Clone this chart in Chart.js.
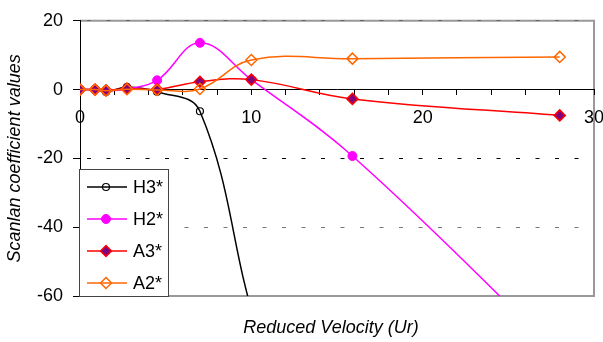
<!DOCTYPE html>
<html>
<head>
<meta charset="utf-8">
<script src="https://cdn.jsdelivr.net/npm/chart.js@4.4.1/dist/chart.umd.min.js"></script>
<style>
  html, body { margin: 0; padding: 0; background: #fff; }
</style>
</head>
<body>
<canvas id="chart" width="603" height="342"></canvas>
<script>
// values
const velocity = [0, 0.88, 1.52, 2.74, 4.5, 7, 10, 15.9, 28];
const h3Velocity = [0, 0.88, 1.52, 2.74, 4.5, 7, 10.5, 14];
const h3Values = [0, -0.1, -0.7, 0.7, -0.6, -6.3, -72, -110];
const h2Values = [0, 0, -0.3, 0.2, 2.7, 13.6, 2.9, -19.3, -77];
const a3Values = [0, 0, -0.2, 0.3, 0.1, 2.3, 2.9, -2.7, -7.5];
const a2Values = [0, 0, -0.3, 0.1, -0.1, 0.2, 8.6, 9.0, 9.5];
const seriesNames = ['H3*', 'H2*', 'A3*', 'A2*'];
const yTicks = [20, 0, -20, -40, -60];
const xLabels = [0, 10, 20, 30];

const FONT = '"Liberation Sans", Arial, sans-serif';

const toPoints = (xs, ys) => ys.map((y, i) => ({ x: xs[i], y }));

// grey frame on top / right / bottom of the plot, drawn under the grid
const plotFrame = {
    id: 'plotFrame',
    beforeDraw(chart) {
        const { ctx, chartArea: a } = chart;
        ctx.save();
        ctx.strokeStyle = '#999';
        ctx.lineWidth = 2;
        ctx.beginPath();
        ctx.moveTo(a.left, a.top);
        ctx.lineTo(a.right, a.top);
        ctx.lineTo(a.right, a.bottom);
        ctx.lineTo(a.left, a.bottom);
        ctx.stroke();
        ctx.restore();
    }
};

// x title sits below the plot, axis itself crosses at y = 0
const xTitle = {
    id: 'xTitle',
    afterDraw(chart) {
        const { ctx, chartArea: a } = chart;
        ctx.save();
        ctx.font = 'italic 18px ' + FONT;
        ctx.fillStyle = '#000';
        ctx.textAlign = 'center';
        ctx.textBaseline = 'middle';
        ctx.fillText('Reduced Velocity (Ur)', (a.left + a.right) / 2 - 6, a.bottom + 32);
        ctx.restore();
    }
};

// boxed legend in the lower-left corner of the plot
const boxLegend = {
    id: 'boxLegend',
    afterDraw(chart) {
        const { ctx, chartArea: a } = chart;
        const x0 = a.left - 1, w = 89, h = 127, y0 = a.bottom - h;
        ctx.save();
        ctx.fillStyle = '#fff';
        ctx.fillRect(x0, y0, w, h);
        ctx.strokeStyle = '#444';
        ctx.lineWidth = 1;
        ctx.strokeRect(x0 + 0.5, y0 + 0.5, w, h);
        chart.data.datasets.forEach((ds, i) => {
            const y = y0 + 18 + i * 32;
            ctx.strokeStyle = ds.borderColor;
            ctx.lineWidth = ds.borderWidth;
            ctx.beginPath();
            ctx.moveTo(x0 + 8, y);
            ctx.lineTo(x0 + 48, y);
            ctx.stroke();
            ctx.fillStyle = ds.pointBackgroundColor;
            ctx.strokeStyle = ds.pointBorderColor;
            ctx.lineWidth = ds.pointBorderWidth;
            Chart.helpers.drawPoint(ctx, {
                pointStyle: ds.pointStyle, radius: ds.pointRadius,
                borderWidth: ds.pointBorderWidth, rotation: 0
            }, x0 + 27, y);
            ctx.fillStyle = '#000';
            ctx.font = '18px ' + FONT;
            ctx.textAlign = 'left';
            ctx.textBaseline = 'middle';
            ctx.fillText(ds.label, x0 + 54, y + 1);
        });
        ctx.restore();
    }
};

const gridColors = { 20: '#666', '-20': '#000', '-40': '#777' };

const ctx = document.getElementById('chart').getContext('2d');
new Chart(ctx, {
    type: 'line',
    data: {
        datasets: [{
            label: seriesNames[0],
            data: toPoints(h3Velocity, h3Values),
            borderColor: '#000',
            borderWidth: 1.5,
            pointStyle: 'circle',
            pointRadius: 3.5,
            pointBackgroundColor: 'rgba(0,0,0,0)',
            pointBorderColor: '#000',
            pointBorderWidth: 1.2,
            order: 3,
        }, {
            label: seriesNames[1],
            data: toPoints(velocity, h2Values),
            borderColor: '#FF00FF',
            borderWidth: 1.5,
            pointStyle: 'circle',
            pointRadius: 4.5,
            pointBackgroundColor: '#FF00FF',
            pointBorderColor: '#FF00FF',
            pointBorderWidth: 1,
            order: 2,
        }, {
            label: seriesNames[2],
            data: toPoints(velocity, a3Values),
            borderColor: '#FF0000',
            borderWidth: 1.5,
            pointStyle: 'rectRot',
            pointRadius: 5.5,
            pointBackgroundColor: '#800080',
            pointBorderColor: '#FF0000',
            pointBorderWidth: 1.5,
            order: 1,
        }, {
            label: seriesNames[3],
            data: toPoints(velocity, a2Values),
            borderColor: '#FF6600',
            borderWidth: 1.5,
            pointStyle: 'rectRot',
            pointRadius: 5.5,
            pointBackgroundColor: 'rgba(0,0,0,0)',
            pointBorderColor: '#FF6600',
            pointBorderWidth: 1.5,
            order: 0,
        }],
    },
    options: {
        responsive: false,
        animation: false,
        devicePixelRatio: 1,
        elements: { line: { tension: 0.4 } },
        layout: { padding: { left: 0, right: 9, top: 19, bottom: 46 } },
        plugins: { legend: { display: false }, tooltip: { enabled: false } },
        scales: {
            x: {
                type: 'linear',
                position: { y: 0 },
                min: 0,
                max: 30,
                afterFit: s => { s.paddingLeft = 0; s.paddingRight = 0; },
                ticks: {
                    stepSize: 2,
                    autoSkip: false,
                    maxRotation: 0,
                    callback: v => xLabels.includes(v) ? String(v) : '',
                    font: { size: 18, family: FONT },
                    color: '#000',
                    padding: 13,
                },
                grid: { drawOnChartArea: false, tickLength: 5, color: '#000' },
                border: { color: '#000', width: 1 },
            },
            y: {
                type: 'linear',
                min: -60,
                max: 20,
                afterBuildTicks: s => { s.ticks = yTicks.map(v => ({ value: v })); },
                afterFit: s => { s.width = 80; },
                ticks: { font: { size: 18, family: FONT }, color: '#000', padding: 10 },
                grid: {
                    color: c => (c.tick && gridColors[c.tick.value]) || 'rgba(0,0,0,0)',
                    tickColor: '#000',
                    tickLength: 7,
                    lineWidth: 1,
                },
                border: { color: '#000', width: 1, dash: [4, 15.5], dashOffset: -6 },
                title: {
                    display: true,
                    text: 'Scanlan coefficient values',
                    font: { size: 18, style: 'italic', family: FONT },
                    color: '#000',
                    padding: { top: 4, bottom: 0 },
                },
            },
        },
    },
    plugins: [plotFrame, xTitle, boxLegend],
});
</script>
</body>
</html>
